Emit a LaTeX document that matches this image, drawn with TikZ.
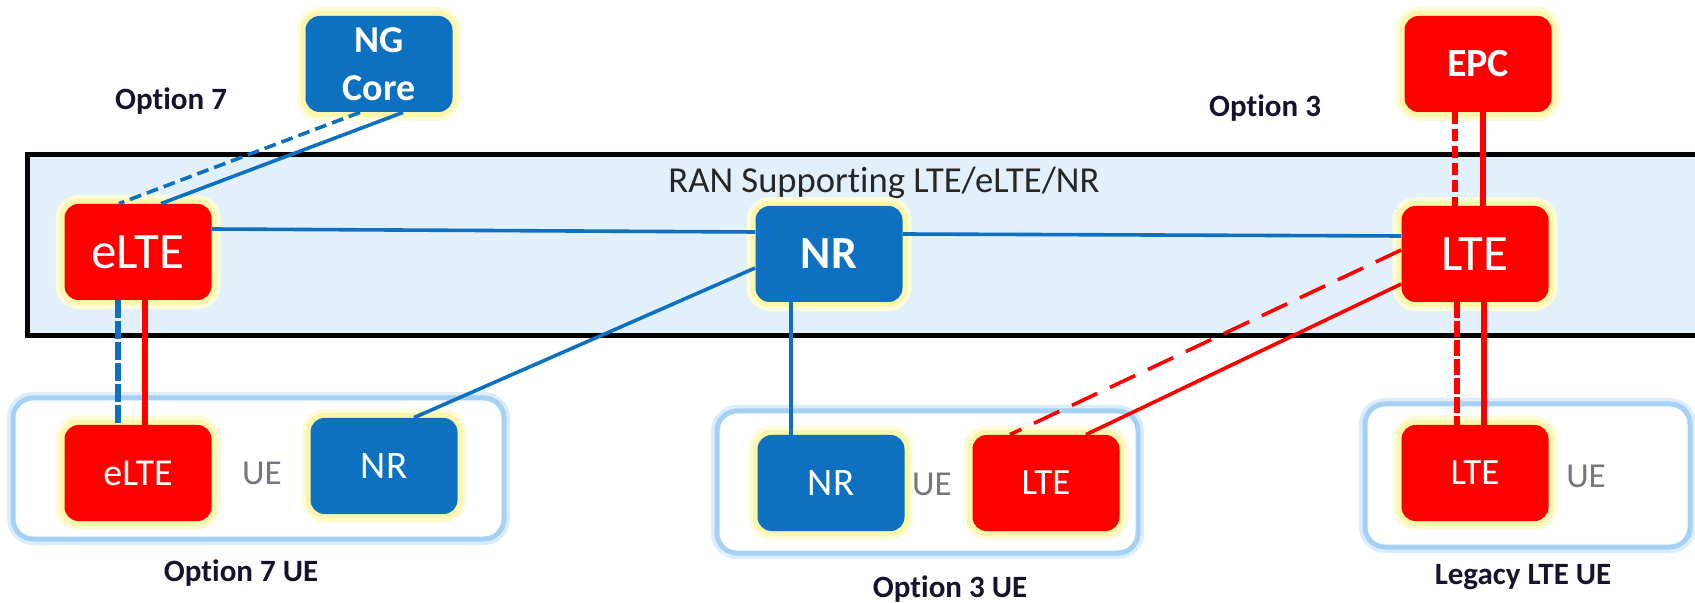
\documentclass[tikz,border=0pt]{standalone}
\usepackage{fontspec}
\setmainfont{Carlito}[Ligatures={NoCommon}]
\usepackage{tikz}
\usetikzlibrary{calc,positioning}
\definecolor{ranblue}{RGB}{14,112,192}
\definecolor{ranfill}{RGB}{226,240,251}
\definecolor{glowyellow}{RGB}{250,246,170}
\definecolor{uerim}{RGB}{165,209,245}
\definecolor{uegray}{RGB}{118,118,130}
\definecolor{labelink}{RGB}{20,20,45}
\tikzset{netbox/.style={rectangle,rounded corners=7pt,inner sep=0,minimum width=73.5pt,minimum height=48pt,text=white,
    preaction={draw=glowyellow!45,line width=9pt},preaction={draw=glowyellow,line width=5pt}},
  bluebox/.style={netbox,fill=ranblue},redbox/.style={netbox,fill=red},
  uegroup/.style={rectangle,rounded corners=10pt,fill=white,draw=uerim,line width=2.5pt,preaction={draw=uerim!40,line width=6pt}},
  bluelink/.style={ranblue,line width=1.8pt},redlink/.style={red,line width=1.8pt}}

\begin{document}
\begin{tikzpicture}[x=0.5pt,y=-0.5pt]

\useasboundingbox (0,0) rectangle (1695,603);
\clip (0,0) rectangle (1695,603);

% The RAN band
\draw[line width=2.5pt,fill=ranfill] (27,155) rectangle (1730,336);
\node[text=black!85,font=\fontsize{18.3}{18.3}\selectfont] (ran-label) at (884,183) {RAN Supporting LTE/eLTE/NR};

% UE groups
\node[uegroup,minimum width=245.5pt,minimum height=70.5pt] (ue7) at (258.5,468.5) {};
\node[uegroup,minimum width=210.5pt,minimum height=71pt] (ue3) at (927.5,482) {};
\node[uegroup,minimum width=162.5pt,minimum height=71.5pt] (uel) at (1527.5,475.5) {};

% Nodes
\node[bluebox,align=center,font=\bfseries\fontsize{19}{24}\selectfont] (ng-core) at (379,64) {NG\\Core};
\node[redbox,font=\bfseries\fontsize{20}{20}\selectfont] (epc) at (1478,64) {EPC};
\node[redbox,font=\fontsize{25.5}{25.5}\selectfont] (ran-elte) at (138,252) {eLTE};
\node[bluebox,font=\bfseries\fontsize{23}{23}\selectfont] (ran-nr) at (829,254) {NR};
\node[redbox,font=\fontsize{25.5}{25.5}\selectfont] (ran-lte) at (1475,254) {LTE};
\node[redbox,font=\fontsize{19}{19}\selectfont] (ue7-elte) at (138,473) {eLTE};
\node[bluebox,font=\fontsize{19.5}{19.5}\selectfont] (ue7-nr) at (384,466) {NR};
\node[bluebox,font=\fontsize{19.5}{19.5}\selectfont] (ue3-nr) at (831,483) {NR};
\node[redbox,font=\fontsize{18.5}{18.5}\selectfont] (ue3-lte) at (1046,483) {LTE};
\node[redbox,font=\fontsize{18.5}{18.5}\selectfont] (uel-lte) at (1475,473) {LTE};

% UE texts
\node[text=uegray,font=\fontsize{17.5}{17.5}\selectfont] (ue7-text) at (262,473) {UE};
\node[text=uegray,font=\fontsize{17.5}{17.5}\selectfont] (ue3-text) at (932,484) {UE};
\node[text=uegray,font=\fontsize{17.5}{17.5}\selectfont] (uel-text) at (1586,476) {UE};

% Option labels
\node[text=labelink,font=\bfseries\fontsize{15.5}{15.5}\selectfont] (opt7) at (171,101) {Option 7};
\node[text=labelink,font=\bfseries\fontsize{15.5}{15.5}\selectfont] (opt3) at (1265,108) {Option 3};
\node[text=labelink,font=\bfseries\fontsize{15.5}{15.5}\selectfont] (opt7-ue) at (241,573) {Option 7 UE};
\node[text=labelink,font=\bfseries\fontsize{15.5}{15.5}\selectfont] (opt3-ue) at (950,589) {Option 3 UE};
\node[text=labelink,font=\bfseries\fontsize{15.5}{15.5}\selectfont] (legacy-ue) at (1523,577) {Legacy LTE UE};

% Core links
\draw[bluelink,dash pattern=on 6pt off 3pt] ([xshift=-9.5pt]ng-core.south) -- ([xshift=-9.5pt]ran-elte.north);
\draw[bluelink] ([xshift=12pt]ng-core.south) -- ([xshift=11.5pt]ran-elte.north);
\draw[red,line width=3pt,dash pattern=on 6pt off 2.5pt] ([xshift=-10pt]ran-lte.north |- epc.south) -- ([xshift=-10pt]ran-lte.north);
\draw[red,line width=2.8pt] ([xshift=4pt]ran-lte.north |- epc.south) -- ([xshift=4pt]ran-lte.north);

% RAN links
\draw[bluelink] ([yshift=11.5pt]ran-elte.east) -- ([yshift=11pt]ran-nr.west);
\draw[bluelink] ([yshift=10pt]ran-nr.east) -- ([yshift=9pt]ran-lte.west);

% Radio links
\draw[ranblue,line width=3pt,dash pattern=on 9pt off 1.5pt] ([xshift=-10pt]ran-elte.south) -- ([xshift=-10pt]ue7-elte.north);
\draw[red,line width=2.6pt] ([xshift=3.5pt]ran-elte.south) -- ([xshift=3.5pt]ue7-elte.north);
\draw[bluelink] ([yshift=-7pt]ran-nr.west) -- ([xshift=15pt]ue7-nr.north);
\draw[bluelink] ([xshift=-19pt]ran-nr.south) -- ([xshift=-20pt]ue3-nr.north);
\draw[redlink,dash pattern=on 14pt off 7pt] ([yshift=2pt]ran-lte.west) -- ([xshift=-18pt]ue3-lte.north);
\draw[redlink] ([yshift=-15pt]ran-lte.west) -- ([xshift=20pt]ue3-lte.north);
\draw[red,line width=3.2pt,dash pattern=on 8pt off 1.5pt] ([xshift=-9pt]ran-lte.south) -- ([xshift=-9pt]uel-lte.north);
\draw[red,line width=2.8pt] ([xshift=4.5pt]ran-lte.south) -- ([xshift=4.5pt]uel-lte.north);

\end{tikzpicture}
\end{document}
